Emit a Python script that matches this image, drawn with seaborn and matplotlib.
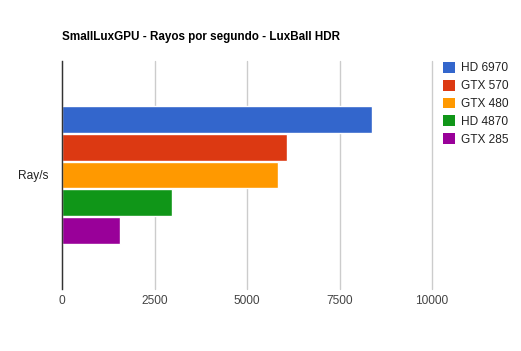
import pandas as pd
import seaborn as sns
import matplotlib.pyplot as plt
from matplotlib.patches import Patch

# datos
gpus = ["HD 6970", "GTX 570", "GTX 480", "HD 4870", "GTX 285"]
rays = [8380, 6090, 5850, 2960, 1560]
colores = ["#3366CC", "#DC3912", "#FF9900", "#109618", "#990099"]
xticks = [0, 2500, 5000, 7500, 10000]

df = pd.DataFrame({"metric": ["Ray/s"] * len(gpus), "gpu": gpus, "value": rays})

sns.set_style("white")
plt.rcParams["font.family"] = ["Liberation Sans", "DejaVu Sans"]

fig = plt.figure(figsize=(5.21, 3.51), dpi=100)
ax = fig.add_axes([62 / 521, 62 / 351, 370 / 521, 228 / 351])

sns.barplot(data=df, x="value", y="metric", hue="gpu", hue_order=gpus,
            palette=colores, orient="h", width=0.61, gap=0.04,
            saturation=1, legend=False, ax=ax)

ax.set_xlim(0, 10000)
ax.set_ylim(0.5, -0.5)
ax.set_xticks(xticks)
ax.set_xticklabels([str(t) for t in xticks])
ax.grid(axis="x", color="#cccccc", linewidth=1)
for gl in ax.get_xgridlines():
    gl.set_clip_on(False)
ax.set_axisbelow(True)
ax.set_xlabel("")
ax.set_ylabel("")
ax.tick_params(axis="x", length=0, pad=4, labelsize=8.6, labelcolor="#444444")
ax.tick_params(axis="y", length=0, pad=10, labelsize=8.6, labelcolor="#222222")
for s in ["top", "right", "bottom"]:
    ax.spines[s].set_visible(False)
ax.spines["left"].set_color("#333333")
ax.spines["left"].set_linewidth(1)

fig.text(62 / 521, 1 - 37 / 351, "SmallLuxGPU - Rayos por segundo - LuxBall HDR",
         fontsize=8.35, fontweight="bold", color="#000000", va="center", ha="left")

handles = [Patch(facecolor=c, edgecolor="none") for c in colores]
fig.legend(handles, gpus, loc="upper left", bbox_to_anchor=(443 / 521, 1 - 62 / 351),
           frameon=False, fontsize=8.6, handlelength=1.0, handleheight=1.0,
           handletextpad=0.5, labelspacing=0.45, borderpad=0, borderaxespad=0,
           labelcolor="#222222")

fig.savefig("out.png", dpi=100, facecolor="white")
